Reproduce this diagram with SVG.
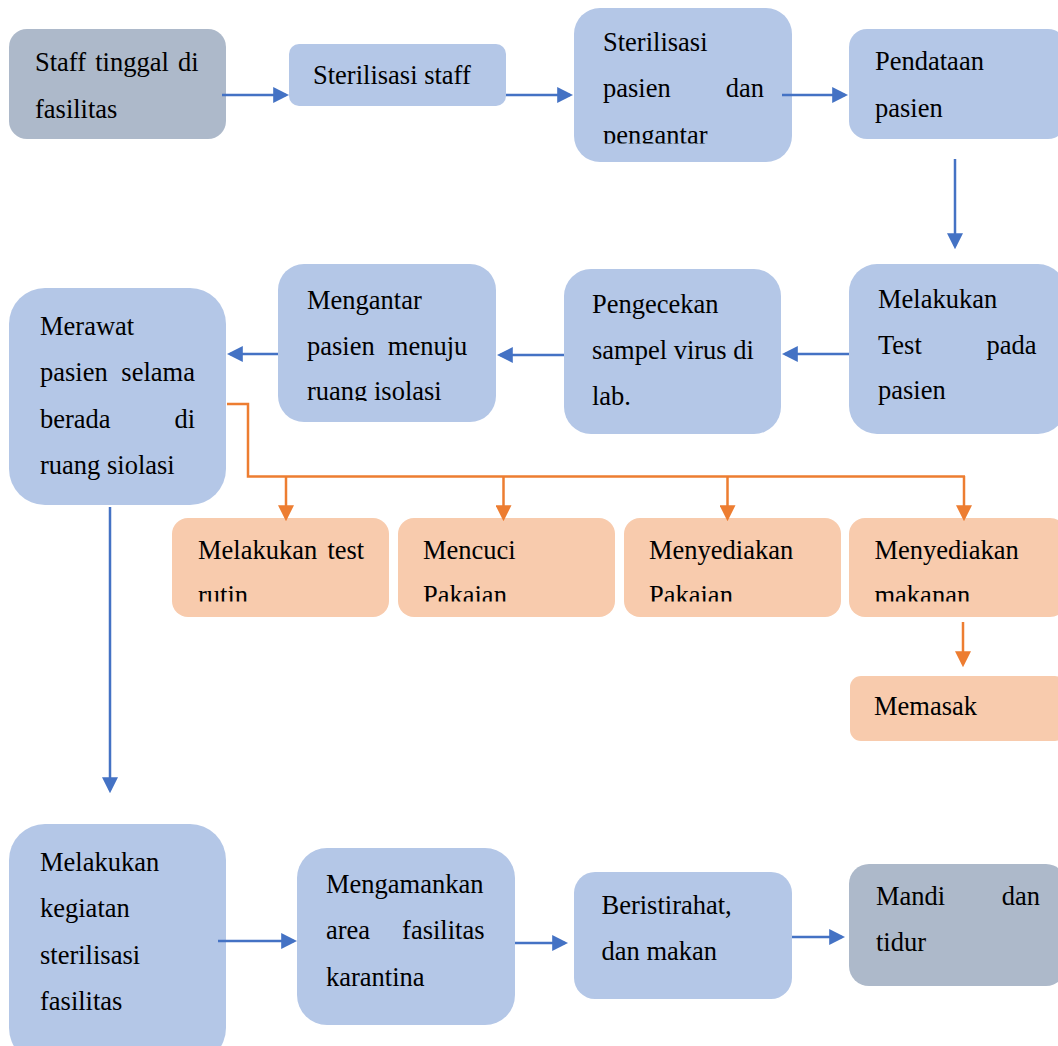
<svg xmlns="http://www.w3.org/2000/svg" width="1058" height="1046" viewBox="0 0 1058 1046">
<style>
.nb{fill:#B4C7E7}
.ng{fill:#ADB9CA}
.no{fill:#F8CBAD}
text{font-family:"Liberation Serif","Times New Roman",serif;font-size:26.5px;fill:#000}
.e{text-anchor:end}
.cb{stroke:#4472C4;stroke-width:2.5;fill:none;marker-end:url(#ab)}
.co{stroke:#ED7D31;stroke-width:2.5;fill:none}
.coa{stroke:#ED7D31;stroke-width:2.5;fill:none;marker-end:url(#ao)}
</style>
<defs>
<marker id="ab" markerUnits="userSpaceOnUse" markerWidth="16" markerHeight="16" viewBox="0 0 15 15" refX="12" refY="7.5" orient="auto"><path d="M0,0 L15,7.5 L0,15 z" fill="#4472C4"/></marker>
<marker id="ao" markerUnits="userSpaceOnUse" markerWidth="16" markerHeight="16" viewBox="0 0 15 15" refX="12" refY="7.5" orient="auto"><path d="M0,0 L15,7.5 L0,15 z" fill="#ED7D31"/></marker>
<clipPath id="c3"><rect x="574" y="0" width="218" height="143.5"/></clipPath>
<clipPath id="c7"><rect x="278" y="260" width="218" height="141"/></clipPath>
<clipPath id="co"><rect x="0" y="500" width="1058" height="101.5"/></clipPath>
</defs>
<g id="n1"><rect class="ng" x="9" y="29" width="217" height="110" rx="18"/><text x="35" y="71" word-spacing="2.5">Staff tinggal di</text><text x="35" y="118">fasilitas</text></g>
<g id="n2"><rect class="nb" x="289" y="44" width="217" height="62" rx="10"/><text x="313" y="83.5">Sterilisasi staff</text></g>
<g id="n3"><rect class="nb" x="574" y="8" width="218" height="154" rx="26"/><text x="603" y="51">Sterilisasi</text><text x="603" y="97">pasien</text><text class="e" x="764" y="97">dan</text><text x="603" y="143.5" clip-path="url(#c3)">pengantar</text></g>
<g id="n4"><rect class="nb" x="849" y="29" width="217" height="110" rx="18"/><text x="875" y="70">Pendataan</text><text x="875" y="117">pasien</text></g>
<g id="n5"><rect class="nb" x="849" y="264" width="217" height="170" rx="28"/><text x="878" y="308">Melakukan</text><text x="878" y="354">Test</text><text class="e" x="1036.5" y="354">pada</text><text x="878" y="399">pasien</text></g>
<g id="n6"><rect class="nb" x="564" y="269" width="217" height="165" rx="27"/><text x="592" y="313">Pengecekan</text><text x="592" y="359">sampel virus di</text><text x="592" y="405">lab.</text></g>
<g id="n7"><rect class="nb" x="278" y="264" width="218" height="158" rx="26"/><text x="307" y="309">Mengantar</text><text x="307" y="355" word-spacing="6.5">pasien menuju</text><text x="307" y="400" clip-path="url(#c7)">ruang isolasi</text></g>
<g id="n8"><rect class="nb" x="9" y="288" width="217" height="217" rx="36"/><text x="40" y="335">Merawat</text><text x="40" y="381" word-spacing="7">pasien selama</text><text x="40" y="428">berada</text><text class="e" x="195" y="428">di</text><text x="40" y="474">ruang siolasi</text></g>
<g id="o1"><rect class="no" x="172" y="518" width="217" height="99" rx="16"/><text x="198" y="559" word-spacing="3.6">Melakukan test</text><text x="198" y="604" clip-path="url(#co)">rutin</text></g>
<g id="o2"><rect class="no" x="398" y="518" width="217" height="99" rx="16"/><text x="423" y="559">Mencuci</text><text x="423" y="604" clip-path="url(#co)">Pakaian</text></g>
<g id="o3"><rect class="no" x="624" y="518" width="217" height="99" rx="16"/><text x="649" y="559">Menyediakan</text><text x="649" y="604" clip-path="url(#co)">Pakaian</text></g>
<g id="o4"><rect class="no" x="849" y="518" width="217" height="99" rx="16"/><text x="874.5" y="559">Menyediakan</text><text x="874.5" y="604" clip-path="url(#co)">makanan</text></g>
<g id="o5"><rect class="no" x="850" y="676" width="216" height="65" rx="11"/><text x="874" y="715">Memasak</text></g>
<g id="n9"><rect class="nb" x="9" y="824" width="217" height="240" rx="36"/><text x="40" y="871">Melakukan</text><text x="40" y="917">kegiatan</text><text x="40" y="964">sterilisasi</text><text x="40" y="1010">fasilitas</text></g>
<g id="n10"><rect class="nb" x="297" y="848" width="218" height="177" rx="30"/><text x="326" y="893">Mengamankan</text><text x="326" y="939">area</text><text class="e" x="484.5" y="939">fasilitas</text><text x="326" y="986">karantina</text></g>
<g id="n11"><rect class="nb" x="574" y="872" width="218" height="127" rx="21"/><text x="601.5" y="914">Beristirahat,</text><text x="601.5" y="960">dan makan</text></g>
<g id="n12"><rect class="ng" x="849" y="864" width="217" height="122" rx="20"/><text x="876" y="905">Mandi</text><text class="e" x="1040" y="905">dan</text><text x="876" y="951">tidur</text></g>
<g id="connectors">
<line class="cb" x1="222" y1="95" x2="286" y2="95"/>
<line class="cb" x1="506" y1="95" x2="570" y2="95"/>
<line class="cb" x1="782" y1="95" x2="845" y2="95"/>
<line class="cb" x1="955" y1="159" x2="955" y2="246"/>
<line class="cb" x1="849" y1="354" x2="785" y2="354"/>
<line class="cb" x1="564" y1="355" x2="500" y2="355"/>
<line class="cb" x1="278" y1="354" x2="230" y2="354"/>
<path class="co" d="M227,404 H248 V476.5 H965"/>
<line class="coa" x1="286" y1="476" x2="286" y2="518"/>
<line class="coa" x1="503.5" y1="476" x2="503.5" y2="518"/>
<line class="coa" x1="727.5" y1="476" x2="727.5" y2="518"/>
<line class="coa" x1="964" y1="476" x2="964" y2="518"/>
<line class="coa" x1="963" y1="622" x2="963" y2="664"/>
<line class="cb" x1="110" y1="507" x2="110" y2="790"/>
<line class="cb" x1="218" y1="941" x2="294" y2="941"/>
<line class="cb" x1="515" y1="943" x2="565" y2="943"/>
<line class="cb" x1="792" y1="937" x2="842" y2="937"/>
</g>
</svg>
